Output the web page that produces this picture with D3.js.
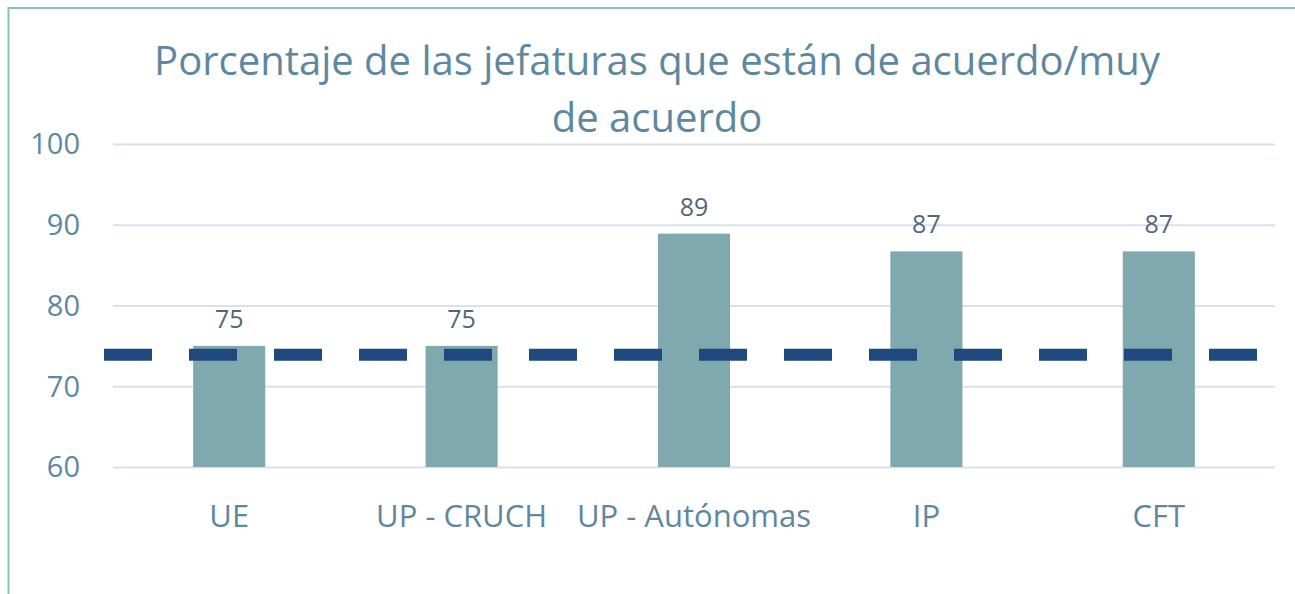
<!DOCTYPE html>
<html>
<head>
<meta charset="utf-8">
<script src="https://cdn.jsdelivr.net/npm/d3@7"></script>
<style>
  body { margin: 0; background: #fff; overflow: hidden; }
  svg { display: block; font-family: "Open Sans", "Noto Sans", sans-serif; }
  .grid line { stroke: #D9E1EA; stroke-width: 2px; }
  .grid path { display: none; }
  .tick-label { fill: #5E87A0; font-size: 29px; }
  .cat-label { fill: #5E87A0; font-size: 31px; }
  .title { fill: #5E87A0; font-size: 40px; }
  .value { fill: #4F677C; font-size: 25px; }
</style>
</head>
<body>
<svg width="1295" height="594"></svg>
<script>
const categories = ['UE', 'UP - CRUCH', 'UP - Autónomas', 'IP', 'CFT'];
const values = [75, 75, 88.9, 86.7, 86.7];
const labels = ['75', '75', '89', '87', '87'];
const reference = 73.9;
const yTicks = [60, 70, 80, 90, 100];
const titleLines = ['Porcentaje de las jefaturas que están de acuerdo/muy', 'de acuerdo'];

const svg = d3.select('svg');

// outer frame: only the left and top edges fall inside the picture
svg.append('path')
   .attr('d', 'M8.5,594 V8 H1295')
   .attr('fill', 'none')
   .attr('stroke', '#8DBFBF')
   .attr('stroke-width', 2);

const plotLeft = 113, plotRight = 1275, plotTop = 144, plotBottom = 467;

const yScale = d3.scaleLinear()
                 .domain([60, 100])
                 .range([plotBottom, plotTop]);

const xScale = d3.scaleBand()
                 .domain(categories)
                 .range([plotLeft, plotRight])
                 .paddingInner(0.69)
                 .paddingOuter(0.345);

// grid
svg.append('g')
   .attr('class', 'grid')
   .attr('transform', `translate(${plotLeft}, 0)`)
   .call(d3.axisLeft(yScale)
           .tickValues(yTicks)
           .tickSize(-(plotRight - plotLeft))
           .tickFormat(''));

// y tick labels
svg.append('g')
   .selectAll('text')
   .data(yTicks)
   .enter()
   .append('text')
   .attr('class', 'tick-label')
   .attr('x', 80)
   .attr('y', d => yScale(d))
   .attr('dy', '0.36em')
   .attr('text-anchor', 'end')
   .text(d => d);

// bars
svg.append('g')
   .selectAll('rect')
   .data(values)
   .enter()
   .append('rect')
   .attr('x', (d, i) => xScale(categories[i]))
   .attr('y', d => yScale(d))
   .attr('width', xScale.bandwidth())
   .attr('height', d => yScale(60) - yScale(d))
   .attr('fill', '#7FA9AE');

// value labels
svg.append('g')
   .selectAll('text')
   .data(values)
   .enter()
   .append('text')
   .attr('class', 'value')
   .attr('x', (d, i) => xScale(categories[i]) + xScale.bandwidth() / 2)
   .attr('y', d => yScale(d) - 18)
   .attr('text-anchor', 'middle')
   .text((d, i) => labels[i]);

// category labels
svg.append('g')
   .selectAll('text')
   .data(categories)
   .enter()
   .append('text')
   .attr('class', 'cat-label')
   .attr('x', d => xScale(d) + xScale.bandwidth() / 2)
   .attr('y', 527)
   .attr('text-anchor', 'middle')
   .text(d => d);

// dashed reference line
svg.append('line')
   .attr('x1', plotLeft - 9)
   .attr('x2', plotRight - 16)
   .attr('y1', yScale(reference))
   .attr('y2', yScale(reference))
   .attr('stroke', '#1F497D')
   .attr('stroke-width', 12)
   .attr('stroke-dasharray', '48 37');

// title
svg.append('text')
   .attr('class', 'title')
   .attr('text-anchor', 'middle')
   .selectAll('tspan')
   .data(titleLines)
   .enter()
   .append('tspan')
   .attr('x', 657)
   .attr('y', (d, i) => 75 + i * 57)
   .text(d => d);
</script>
</body>
</html>
